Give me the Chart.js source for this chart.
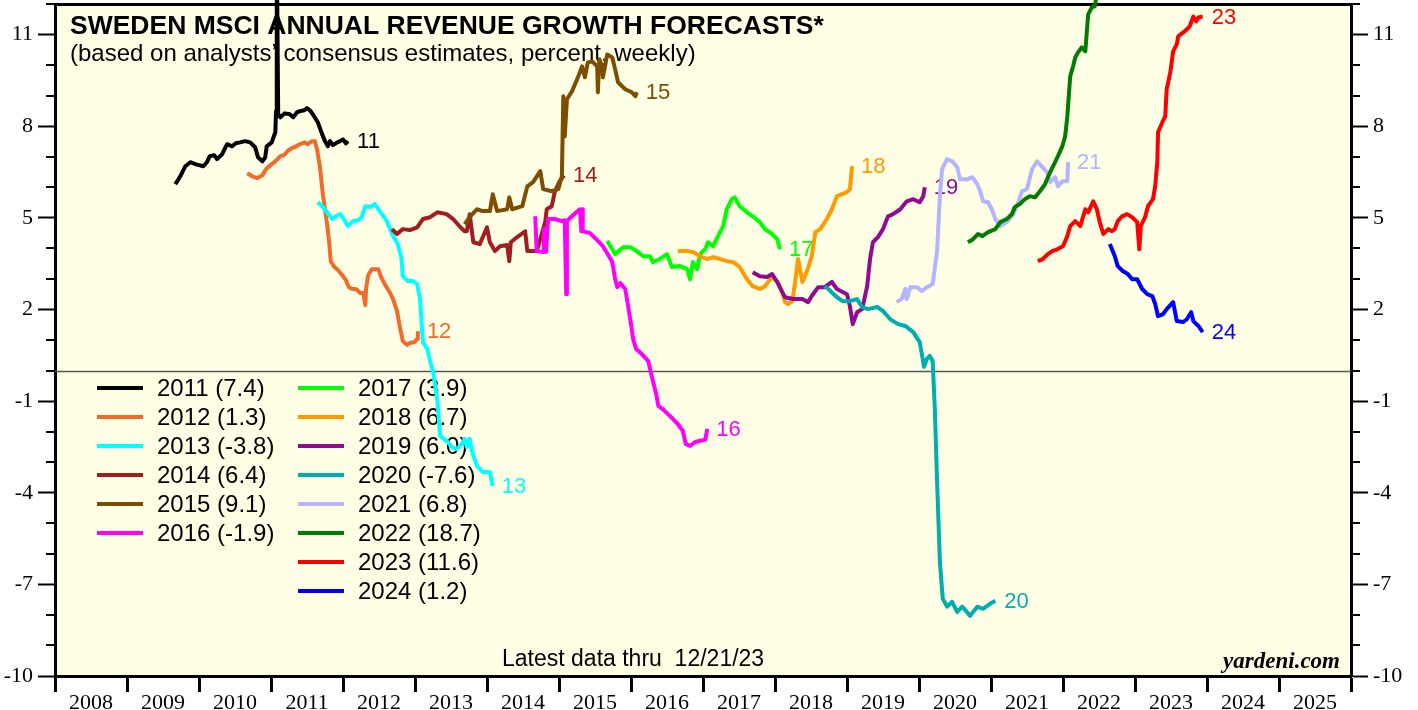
<!DOCTYPE html>
<html>
<head>
<meta charset="utf-8">
<script src="https://cdn.jsdelivr.net/npm/chart.js@4.4.1/dist/chart.umd.min.js"></script>
<style>
  html, body { margin: 0; padding: 0; background: #ffffff; }
</style>
</head>
<body>
<canvas id="chart_swedenRevenue" width="1418" height="710"></canvas>
<script>
// forecast years, colours and latest values shown in the legend
const years = [2011, 2012, 2013, 2014, 2015, 2016, 2017, 2018, 2019, 2020, 2021, 2022, 2023, 2024];
const colors = ['#000000', '#F26B2C', '#00FFFF', '#A01E22', '#7E4D00', '#FF00FF', '#00FF00',
                '#FF9A00', '#910B91', '#00AEAE', '#B4B4FF', '#007D00', '#FF0000', '#0000FF'];
const latest = [7.4, 1.3, -3.8, 6.4, 9.1, -1.9, 3.9, 6.7, 6.0, -7.6, 6.8, 18.7, 11.6, 1.2];

// y axis labels
const yTicks = [-10, -7, -4, -1, 2, 5, 8, 11];

// weekly series: [year fraction, percent]
const s2011 = [[2009.67,6.10],[2009.69,6.17],[2009.74,6.36],[2009.81,6.69],[2009.88,6.82],[2009.96,6.75],[2010.06,6.69],[2010.11,6.82],[2010.15,7.02],[2010.21,7.05],[2010.25,6.92],[2010.32,7.08],[2010.39,7.41],[2010.46,7.34],[2010.51,7.44],[2010.57,7.47],[2010.64,7.51],[2010.71,7.47],[2010.78,7.31],[2010.82,6.98],[2010.88,6.85],[2010.92,6.98],[2010.94,7.34],[2011.01,7.47],[2011.06,7.80],[2011.07,8.49],[2011.08,14],[2011.10,8.39],[2011.13,8.29],[2011.19,8.42],[2011.26,8.39],[2011.31,8.29],[2011.36,8.45],[2011.40,8.49],[2011.46,8.52],[2011.50,8.59],[2011.54,8.52],[2011.58,8.39],[2011.65,8.13],[2011.71,7.74],[2011.75,7.51],[2011.79,7.34],[2011.82,7.51],[2011.86,7.38],[2011.92,7.47],[2011.96,7.51],[2012.00,7.57],[2012.04,7.44],[2012.07,7.51]];
const s2012 = [[2010.67,6.46],[2010.74,6.36],[2010.81,6.30],[2010.88,6.39],[2010.93,6.59],[2010.99,6.72],[2011.06,6.85],[2011.13,7.02],[2011.18,7.05],[2011.24,7.21],[2011.29,7.28],[2011.35,7.34],[2011.40,7.41],[2011.47,7.47],[2011.51,7.41],[2011.57,7.51],[2011.61,7.51],[2011.64,7.24],[2011.68,6.66],[2011.72,5.77],[2011.75,5.28],[2011.78,4.79],[2011.81,4.14],[2011.83,3.58],[2011.88,3.39],[2011.93,3.29],[2011.99,3.12],[2012.04,2.96],[2012.08,2.73],[2012.13,2.67],[2012.18,2.67],[2012.24,2.54],[2012.28,2.54],[2012.31,2.14],[2012.32,2.67],[2012.35,3.12],[2012.40,3.32],[2012.49,3.32],[2012.53,3.06],[2012.58,2.83],[2012.64,2.60],[2012.69,2.37],[2012.75,1.95],[2012.79,1.42],[2012.83,0.97],[2012.89,0.84],[2012.93,0.90],[2012.99,0.93],[2013.03,1.03],[2013.04,1.29]];
const s2013 = [[2011.65,5.51],[2011.72,5.35],[2011.78,5.18],[2011.85,4.96],[2011.90,5.05],[2011.96,5.12],[2012.01,4.96],[2012.07,4.73],[2012.14,4.89],[2012.21,4.92],[2012.26,5.02],[2012.31,5.38],[2012.38,5.35],[2012.44,5.45],[2012.51,5.22],[2012.61,4.89],[2012.69,4.43],[2012.76,4.14],[2012.81,3.71],[2012.83,3.09],[2012.90,2.93],[2012.97,2.93],[2013.03,2.83],[2013.07,2.34],[2013.11,0.93],[2013.17,0.71],[2013.22,0.21],[2013.25,-0.01],[2013.31,-0.97],[2013.35,-2.14],[2013.44,-2.30],[2013.51,-2.50],[2013.58,-2.57],[2013.65,-2.40],[2013.69,-2.24],[2013.72,-2.50],[2013.76,-2.24],[2013.79,-2.63],[2013.86,-3.12],[2013.94,-3.32],[2014.04,-3.32],[2014.08,-3.78]];
const s2014 = [[2012.68,4.63],[2012.75,4.47],[2012.83,4.63],[2012.93,4.60],[2013.03,4.69],[2013.11,4.96],[2013.21,5.02],[2013.31,5.18],[2013.44,5.12],[2013.53,4.96],[2013.63,4.69],[2013.69,4.56],[2013.72,4.56],[2013.76,5.12],[2013.81,4.20],[2013.90,4.14],[2014.00,4.69],[2014.04,4.20],[2014.11,3.91],[2014.18,4.07],[2014.28,4.11],[2014.31,3.58],[2014.33,4.20],[2014.42,4.37],[2014.53,4.56],[2014.56,3.91],[2014.69,3.91],[2014.74,4.30],[2014.78,4.63],[2014.81,4.89],[2014.83,5.28],[2014.90,5.38],[2014.94,5.84],[2015.01,6.20],[2015.07,6.39]];
const s2015 = [[2013.69,4.79],[2013.76,5.02],[2013.86,5.28],[2013.94,5.22],[2014.04,5.22],[2014.08,5.77],[2014.14,5.22],[2014.28,5.28],[2014.31,5.67],[2014.35,5.28],[2014.49,5.38],[2014.56,6.03],[2014.64,6.17],[2014.74,6.53],[2014.78,5.94],[2014.90,5.87],[2014.99,5.94],[2015.04,6.36],[2015.06,8.98],[2015.08,7.67],[2015.11,8.88],[2015.18,9.14],[2015.25,9.53],[2015.29,9.76],[2015.32,9.96],[2015.36,9.60],[2015.40,10.09],[2015.46,10.12],[2015.53,9.96],[2015.54,9.11],[2015.56,10.19],[2015.60,9.96],[2015.61,9.60],[2015.67,10.35],[2015.74,10.25],[2015.78,9.86],[2015.82,9.44],[2015.92,9.21],[2016.01,9.11],[2016.06,8.98],[2016.08,9.11]];
const s2016 = [[2014.67,5.05],[2014.69,3.91],[2014.78,3.88],[2014.79,4.63],[2014.82,3.88],[2014.85,4.96],[2014.94,4.96],[2015.04,4.89],[2015.08,4.92],[2015.10,2.50],[2015.11,4.89],[2015.18,5.05],[2015.26,5.22],[2015.29,5.28],[2015.31,4.56],[2015.32,5.28],[2015.33,4.56],[2015.43,4.50],[2015.53,4.27],[2015.61,4.07],[2015.67,3.84],[2015.74,3.55],[2015.78,2.99],[2015.81,2.73],[2015.85,2.86],[2015.92,2.67],[2015.99,1.68],[2016.03,1.03],[2016.07,0.71],[2016.15,0.54],[2016.24,0.31],[2016.29,-0.21],[2016.35,-0.77],[2016.38,-1.16],[2016.44,-1.26],[2016.51,-1.42],[2016.58,-1.58],[2016.65,-1.75],[2016.72,-1.98],[2016.76,-2.40],[2016.82,-2.47],[2016.89,-2.34],[2016.96,-2.30],[2017.03,-2.27],[2017.06,-1.91]];
const s2017 = [[2015.67,4.24],[2015.74,3.97],[2015.78,3.81],[2015.89,4.04],[2015.99,4.04],[2016.08,3.91],[2016.17,3.74],[2016.26,3.74],[2016.31,3.55],[2016.40,3.65],[2016.50,3.81],[2016.57,3.39],[2016.68,3.42],[2016.78,3.32],[2016.82,2.99],[2016.86,3.55],[2016.92,3.32],[2016.96,3.81],[2017.03,3.97],[2017.07,4.20],[2017.14,4.07],[2017.21,4.40],[2017.28,4.73],[2017.33,5.28],[2017.40,5.61],[2017.44,5.67],[2017.51,5.38],[2017.61,5.18],[2017.69,5.05],[2017.79,4.86],[2017.86,4.63],[2017.96,4.47],[2018.03,4.30],[2018.07,3.97]];
const s2018 = [[2016.65,3.91],[2016.78,3.91],[2016.86,3.88],[2016.96,3.74],[2017.06,3.65],[2017.14,3.71],[2017.24,3.65],[2017.33,3.58],[2017.42,3.55],[2017.51,3.39],[2017.61,2.99],[2017.69,2.76],[2017.79,2.67],[2017.86,2.76],[2017.96,3.06],[2018.04,2.90],[2018.10,2.57],[2018.14,2.24],[2018.18,2.18],[2018.24,2.27],[2018.28,2.90],[2018.32,3.65],[2018.38,2.90],[2018.44,3.22],[2018.51,3.74],[2018.56,4.53],[2018.63,4.63],[2018.72,4.96],[2018.79,5.28],[2018.86,5.71],[2019.00,5.84],[2019.04,5.94],[2019.07,6.69]];
const s2019 = [[2017.69,3.22],[2017.79,3.09],[2017.89,3.06],[2017.96,3.16],[2018.03,2.90],[2018.10,2.57],[2018.14,2.40],[2018.25,2.34],[2018.38,2.34],[2018.46,2.24],[2018.51,2.44],[2018.60,2.73],[2018.69,2.73],[2018.79,2.90],[2018.86,2.67],[2019.00,2.50],[2019.04,2.11],[2019.08,1.52],[2019.14,1.91],[2019.21,2.01],[2019.28,2.76],[2019.32,3.65],[2019.36,4.20],[2019.43,4.37],[2019.50,4.63],[2019.57,5.05],[2019.64,5.12],[2019.74,5.28],[2019.83,5.54],[2019.92,5.61],[2020.01,5.51],[2020.06,5.71],[2020.08,6.00]];
const s2020 = [[2018.69,2.76],[2018.74,2.67],[2018.86,2.40],[2018.94,2.27],[2019.04,2.27],[2019.14,2.34],[2019.21,2.08],[2019.29,2.01],[2019.42,2.08],[2019.50,1.95],[2019.60,1.68],[2019.71,1.52],[2019.81,1.46],[2019.92,1.26],[2020.01,0.93],[2020.04,0.54],[2020.07,0.12],[2020.11,0.38],[2020.15,0.48],[2020.19,0.31],[2020.22,-1.26],[2020.25,-3.55],[2020.29,-6.26],[2020.33,-7.47],[2020.39,-7.73],[2020.46,-7.57],[2020.53,-7.90],[2020.60,-7.73],[2020.71,-8.03],[2020.81,-7.73],[2020.89,-7.80],[2020.99,-7.63],[2021.06,-7.54]];
const s2021 = [[2019.69,2.24],[2019.76,2.34],[2019.81,2.67],[2019.83,2.34],[2019.88,2.73],[2019.97,2.73],[2020.04,2.60],[2020.11,2.73],[2020.19,2.83],[2020.25,3.88],[2020.29,5.71],[2020.32,6.59],[2020.39,6.92],[2020.46,6.85],[2020.53,6.66],[2020.57,6.26],[2020.67,6.26],[2020.74,6.33],[2020.81,6.10],[2020.85,5.87],[2020.89,5.54],[2020.96,5.51],[2021.01,5.28],[2021.06,4.96],[2021.13,4.73],[2021.22,4.86],[2021.31,5.12],[2021.38,5.51],[2021.43,5.87],[2021.50,5.94],[2021.57,6.59],[2021.64,6.85],[2021.68,6.75],[2021.78,6.49],[2021.82,6.17],[2021.89,6.33],[2021.93,6.03],[2021.99,6.20],[2022.06,6.20],[2022.07,6.82]];
const s2022 = [[2020.68,4.20],[2020.75,4.30],[2020.82,4.47],[2020.88,4.40],[2020.96,4.53],[2021.06,4.63],[2021.13,4.86],[2021.22,4.96],[2021.29,5.12],[2021.33,5.35],[2021.40,5.45],[2021.47,5.61],[2021.54,5.71],[2021.61,5.67],[2021.68,5.87],[2021.75,6.10],[2021.82,6.49],[2021.89,6.82],[2021.93,7.02],[2021.99,7.34],[2022.03,7.67],[2022.06,8.32],[2022.10,9.63],[2022.14,9.96],[2022.17,10.25],[2022.21,10.42],[2022.26,10.58],[2022.31,10.45],[2022.33,11.07],[2022.35,11.66],[2022.40,11.89],[2022.44,11.92],[2022.47,12.3],[2022.70,15.5],[2023.05,18.7]];
const s2023 = [[2021.65,3.58],[2021.72,3.65],[2021.79,3.81],[2021.85,3.91],[2021.92,3.97],[2022.00,4.07],[2022.06,4.40],[2022.10,4.73],[2022.17,4.89],[2022.24,4.73],[2022.31,5.28],[2022.35,5.18],[2022.42,5.54],[2022.47,5.28],[2022.51,4.86],[2022.56,4.47],[2022.63,4.63],[2022.68,4.56],[2022.72,4.63],[2022.76,4.89],[2022.82,5.05],[2022.89,5.12],[2022.96,5.02],[2023.03,4.86],[2023.06,3.97],[2023.08,4.73],[2023.14,5.02],[2023.18,5.38],[2023.25,5.61],[2023.28,6.03],[2023.31,6.82],[2023.32,7.80],[2023.38,8.13],[2023.42,8.32],[2023.44,9.21],[2023.49,9.76],[2023.53,10.45],[2023.58,10.68],[2023.60,10.94],[2023.67,11.07],[2023.72,11.17],[2023.76,11.27],[2023.81,11.59],[2023.85,11.43],[2023.88,11.56],[2023.94,11.59]];
const s2024 = [[2022.65,4.14],[2022.72,3.74],[2022.76,3.42],[2022.83,3.26],[2022.90,3.16],[2022.96,2.99],[2023.03,2.99],[2023.10,2.67],[2023.17,2.50],[2023.24,2.44],[2023.28,2.18],[2023.32,1.78],[2023.39,1.85],[2023.44,2.01],[2023.53,2.24],[2023.58,1.62],[2023.67,1.59],[2023.72,1.68],[2023.78,1.91],[2023.81,1.62],[2023.88,1.46],[2023.94,1.26]];

const series = [s2011, s2012, s2013, s2014, s2015, s2016, s2017, s2018, s2019, s2020, s2021, s2022, s2023, s2024];

const SANS = '"Liberation Sans", Arial, sans-serif';
const SERIF = '"Liberation Serif", "Times New Roman", serif';

const datasets = series.map((s, i) => ({
    label: years[i] + ' (' + latest[i].toFixed(1) + ')',
    shortLabel: String(years[i]).slice(2),
    data: s.map(p => ({ x: p[0], y: p[1] })),
    borderColor: colors[i],
    backgroundColor: colors[i],
    borderWidth: 4,
    borderJoinStyle: 'round',
    pointRadius: 0,
    tension: 0,
    fill: false,
    clip: false,
    order: series.length - i
}));

// strip the automatic edge padding so the plot fills the frame
const noPad = (scale) => {
    scale.paddingTop = 0; scale.paddingBottom = 0;
    scale.paddingLeft = 0; scale.paddingRight = 0;
};

var chart_swedenRevenue = new Chart(document.getElementById('chart_swedenRevenue'), {
    type: 'line',
    data: { datasets: datasets },
    options: {
        animation: false,
        responsive: false,
        devicePixelRatio: 1,
        layout: { padding: { top: 4, left: 0, right: 0, bottom: 0 } },
        plugins: {
            legend: { display: false },
            title: { display: false },
            tooltip: { enabled: false }
        },
        scales: {
            x: {
                type: 'linear',
                position: 'bottom',
                min: 2008,
                max: 2026,
                afterBuildTicks: (scale) => {
                    const t = [];
                    for (let y = 2008; y <= 2026; y++) t.push({ value: y });
                    scale.ticks = t;
                },
                afterFit: (scale) => { scale.height = 34; noPad(scale); },
                ticks: {
                    autoSkip: false,
                    maxRotation: 0,
                    labelOffset: 36,
                    padding: -2,
                    color: '#000',
                    font: { family: SERIF, size: 22 },
                    callback: (v) => v < 2026 ? String(v) : ''
                },
                grid: { drawOnChartArea: false, drawTicks: true, tickLength: 16, tickWidth: 3, tickColor: '#000' },
                border: { display: true, width: 3, color: '#000' }
            },
            xTop: {
                type: 'linear',
                position: 'top',
                min: 2008,
                max: 2026,
                afterFit: (scale) => { scale.height = 0; noPad(scale); },
                ticks: { display: false },
                grid: { drawOnChartArea: false, drawTicks: false },
                border: { display: true, width: 3, color: '#000' }
            },
            y: {
                type: 'linear',
                position: 'left',
                min: -10,
                max: 12,
                afterBuildTicks: (scale) => { scale.ticks = yTicks.map(v => ({ value: v })); },
                afterFit: (scale) => { scale.width = 55; noPad(scale); },
                ticks: { color: '#000', padding: 5, font: { family: SERIF, size: 22 } },
                grid: { drawOnChartArea: false, tickLength: 17, tickWidth: 2, tickColor: '#000' },
                border: { display: true, width: 3, color: '#000' }
            },
            y2: {
                type: 'linear',
                position: 'right',
                min: -10,
                max: 12,
                afterBuildTicks: (scale) => { scale.ticks = yTicks.map(v => ({ value: v })); },
                afterFit: (scale) => { scale.width = 67; noPad(scale); },
                ticks: { color: '#000', padding: 5, font: { family: SERIF, size: 22 } },
                grid: { drawOnChartArea: false, tickLength: 17, tickWidth: 2, tickColor: '#000' },
                border: { display: true, width: 3, color: '#000' }
            }
        }
    },
    plugins: [{
        id: 'yardeniDecor',
        beforeDraw: (chart) => {
            const ctx = chart.ctx;
            const a = chart.chartArea;
            ctx.save();
            ctx.fillStyle = '#ffffff';
            ctx.fillRect(0, 0, chart.width, chart.height);
            ctx.fillStyle = '#FFFFE6';
            ctx.fillRect(a.left, a.top, a.right - a.left, a.bottom - a.top);
            ctx.restore();
        },
        beforeDatasetsDraw: (chart) => {
            const ctx = chart.ctx;
            const a = chart.chartArea;
            const ys = chart.scales.y;
            ctx.save();
            // zero line
            const y0 = Math.round(ys.getPixelForValue(0)) + 0.5;
            ctx.strokeStyle = '#555555';
            ctx.lineWidth = 1.5;
            ctx.beginPath();
            ctx.moveTo(a.left, y0);
            ctx.lineTo(a.right, y0);
            ctx.stroke();

            // titles
            ctx.fillStyle = '#000';
            ctx.textAlign = 'left';
            ctx.textBaseline = 'alphabetic';
            ctx.font = 'bold 26.5px ' + SANS;
            ctx.fillText('SWEDEN MSCI ANNUAL REVENUE GROWTH FORECASTS*', a.left + 15, 34);
            ctx.font = '24px ' + SANS;
            ctx.fillText('(based on analysts\u2019 consensus estimates, percent, weekly)', a.left + 15, 61);
            ctx.font = '23px ' + SANS;
            ctx.fillText('Latest data thru  12/21/23', 502, a.bottom - 10);
            ctx.textAlign = 'right';
            ctx.font = 'italic bold 23px ' + SERIF;
            ctx.fillText('yardeni.com', a.right - 11, a.bottom - 8);

            // legend, two columns
            ctx.textAlign = 'left';
            ctx.textBaseline = 'middle';
            ctx.font = '24px ' + SANS;
            chart.data.datasets.forEach((ds, i) => {
                const col = i < 6 ? 0 : 1;
                const row = i < 6 ? i : i - 6;
                const lx = a.left + 42 + col * 201;
                const ly = 388 + row * 29;
                ctx.strokeStyle = ds.borderColor;
                ctx.lineWidth = 4;
                ctx.beginPath();
                ctx.moveTo(lx, ly);
                ctx.lineTo(lx + 46, ly);
                ctx.stroke();
                ctx.fillStyle = '#000';
                ctx.fillText(ds.label, lx + 60, ly + 1);
            });

            // end-of-line labels
            ctx.font = '22px ' + SANS;
            chart.data.datasets.forEach((ds, i) => {
                const meta = chart.getDatasetMeta(i);
                const last = meta.data[meta.data.length - 1];
                if (!last || last.y < a.top) return;
                ctx.fillStyle = ds.borderColor;
                ctx.fillText(ds.shortLabel, last.x + 9, last.y + 1);
            });
            ctx.restore();
        },
        afterDraw: (chart) => {
            // minor ticks on both y axes
            const ctx = chart.ctx;
            const a = chart.chartArea;
            const ys = chart.scales.y;
            ctx.save();
            ctx.strokeStyle = '#000';
            ctx.lineWidth = 2;
            for (let v = -10; v <= 12; v++) {
                if (yTicks.includes(v)) continue;
                const py = Math.round(ys.getPixelForValue(v));
                ctx.beginPath();
                ctx.moveTo(a.left - 9, py);
                ctx.lineTo(a.left, py);
                ctx.moveTo(a.right, py);
                ctx.lineTo(a.right + 9, py);
                ctx.stroke();
            }
            ctx.restore();
        }
    }]
});
</script>
</body>
</html>
